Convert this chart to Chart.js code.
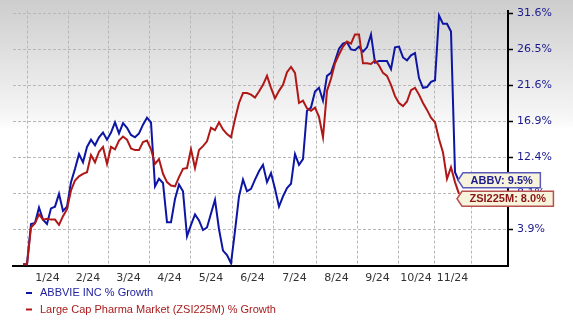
<!DOCTYPE html>
<html>
<head>
<meta charset="utf-8">
<script src="https://cdn.jsdelivr.net/npm/chart.js@4.4.0/dist/chart.umd.min.js"></script>
<style>
  html, body { margin: 0; padding: 0; background: #fff; }
  #wrap { width: 573px; height: 324px; }
</style>
</head>
<body>
<div id="wrap"><canvas id="growthChart" width="573" height="324"></canvas></div>
<script>
// % growth since start, one sample every ~2 trading days
const abbvGrowth = [
  0.0, 0.0, 4.5, 4.6, 6.4, 5.0, 4.5, 6.3, 6.5, 8.0,
  6.0, 6.5, 9.4, 11.0, 12.8, 11.8, 13.7, 14.6, 13.9, 14.9,
  15.5, 14.6, 15.5, 16.8, 15.4, 16.7, 16.1, 15.2, 14.9, 15.4,
  16.5, 17.4, 16.8, 8.9, 9.8, 9.3, 4.7, 4.7, 7.4, 9.1,
  8.3, 3.1, 4.4, 5.6, 4.9, 3.8, 4.1, 5.7, 7.3, 3.9,
  1.5, 1.0, 0.1, 3.7, 7.7, 9.7, 8.3, 8.6, 9.7, 10.7,
  11.5, 9.4, 10.5, 8.6, 6.5, 7.7, 8.7, 9.2, 12.8, 11.5,
  12.2, 18.3, 18.7, 20.8, 21.3, 19.6, 22.9, 23.3, 24.9, 26.6,
  27.3, 27.5, 26.5, 26.4, 26.9, 26.2, 26.8, 28.6, 24.7, 24.9,
  24.9, 24.9, 23.8, 26.8, 26.9, 25.4, 25.0, 25.7, 26.0, 22.6,
  21.3, 21.4, 22.1, 22.3, 31.3, 30.1, 30.1, 29.0, 10.6, 9.5
];
const pharmaGrowth = [
  0.0, 0.0, 4.1, 4.6, 5.6, 5.0, 5.1, 5.0, 5.0, 4.4,
  5.4, 6.2, 8.4, 9.6, 10.1, 10.4, 10.6, 12.7, 11.8, 13.1,
  13.7, 11.6, 13.7, 13.4, 14.5, 15.0, 14.6, 13.5, 13.3, 13.3,
  14.3, 14.5, 13.4, 11.6, 12.2, 10.4, 9.4, 9.0, 8.9, 10.0,
  11.0, 11.1, 13.4, 11.1, 13.3, 13.8, 14.4, 16.1, 15.8, 16.8,
  15.9, 15.3, 14.9, 17.2, 19.3, 20.6, 20.6, 20.4, 20.0, 20.8,
  21.7, 22.9, 21.3, 19.9, 20.9, 21.7, 23.4, 24.1, 23.3, 19.3,
  19.6, 18.6, 18.3, 18.7, 17.5, 14.9, 20.9, 22.5, 24.6, 25.8,
  26.9, 27.6, 27.3, 28.6, 28.6, 24.6, 24.6, 24.5, 25.0, 24.3,
  23.3, 22.9, 21.7, 20.2, 19.3, 18.9, 19.5, 21.0, 21.3, 20.4,
  19.3, 18.4, 17.4, 16.8, 14.7, 13.0, 9.8, 11.2, 9.4, 8.0
];
// month boundaries on the sample axis
const monthStarts = [1, 11.25, 21.25, 31.5, 41.75, 52.25, 62.5, 73.25, 83.5, 93.75, 102.75, 112];
const monthLabels = ['1/24', '2/24', '3/24', '4/24', '5/24', '6/24', '7/24', '8/24', '9/24', '10/24', '11/24'];
const yTicks = [3.9, 8.1, 12.4, 16.9, 21.6, 26.5, 31.6];

const BLUE = '#0d16a3';
const RED = '#b01818';

// x ticks: grid line at each month start, label in the middle of each month
const xTicks = [];
monthStarts.forEach((v, i) => {
  xTicks.push({ value: v, label: '', grid: true });
  if (i < monthLabels.length) {
    xTicks.push({ value: (v + monthStarts[i + 1]) / 2, label: monthLabels[i], grid: false });
  }
});

const toIndex = arr => arr.map((g, i) => ({ x: i, y: 100 + g }));

const bgPlugin = {
  id: 'bg',
  beforeDraw(chart) {
    const c = chart.ctx;
    const g = c.createLinearGradient(0, 0, 0, chart.height);
    g.addColorStop(0, '#cdcdcd');
    g.addColorStop(0.36, '#f6f6f6');
    g.addColorStop(0.4, '#ffffff');
    g.addColorStop(1, '#ffffff');
    c.save();
    c.fillStyle = g;
    c.fillRect(0, 0, chart.width, chart.height);
    c.restore();
  }
};

function tag(c, x, yc, text, border, color, font) {
  c.font = font;
  const w = c.measureText(text).width + 15;
  const h = 15;
  const top = yc - h / 2;
  c.beginPath();
  c.moveTo(x, yc);
  c.lineTo(x + 5, top);
  c.lineTo(x + 5 + w, top);
  c.lineTo(x + 5 + w, top + h);
  c.lineTo(x + 5, top + h);
  c.closePath();
  c.fillStyle = '#f7f3dc';
  c.fill();
  c.lineWidth = 1.5;
  c.strokeStyle = border;
  c.stroke();
  c.fillStyle = color;
  c.textAlign = 'center';
  c.textBaseline = 'middle';
  c.fillText(text, x + 5 + w / 2, yc + 0.5);
}

const labelPlugin = {
  id: 'endLabels',
  afterDraw(chart) {
    const c = chart.ctx;
    const xs = chart.scales.x, ys = chart.scales.y;
    const last = abbvGrowth.length - 1;
    const xEnd = xs.getPixelForValue(last);
    const yA = ys.getPixelForValue(100 + abbvGrowth[last]) - 1;
    let yZ = ys.getPixelForValue(100 + pharmaGrowth[last]);
    if (yZ < yA + 18.5) yZ = yA + 18.5;
    c.save();
    const font = 'bold 11px "Liberation Sans", Arial, sans-serif';
    tag(c, xEnd - 1, yA, 'ABBV: ' + abbvGrowth[last].toFixed(1) + '%', '#5a5ab8', '#1c1c8c', font);
    tag(c, xEnd - 2, yZ, 'ZSI225M: ' + pharmaGrowth[last].toFixed(1) + '%', '#b85050', '#8b1414', font);

    // legend
    const items = [
      { text: 'ABBVIE INC % Growth', color: BLUE, textColor: '#2222a0', y: 293 },
      { text: 'Large Cap Pharma Market (ZSI225M) % Growth', color: RED, textColor: '#a81c1c', y: 309.5 }
    ];
    c.font = '11px "Liberation Sans", Arial, sans-serif';
    c.textAlign = 'left';
    c.textBaseline = 'middle';
    items.forEach(it => {
      c.strokeStyle = it.color;
      c.lineWidth = 2;
      c.beginPath();
      c.moveTo(26, it.y);
      c.lineTo(32, it.y);
      c.stroke();
      c.fillStyle = it.textColor;
      c.fillText(it.text, 40, it.y);
    });
    c.restore();
  }
};

new Chart(document.getElementById('growthChart').getContext('2d'), {
  type: 'line',
  data: {
    datasets: [{
      label: 'ABBVIE INC % Growth',
      data: toIndex(abbvGrowth),
      borderColor: BLUE,
      borderWidth: 2,
      pointRadius: 0,
      tension: 0,
      order: 1
    }, {
      label: 'Large Cap Pharma Market (ZSI225M) % Growth',
      data: toIndex(pharmaGrowth),
      borderColor: RED,
      borderWidth: 2,
      pointRadius: 0,
      tension: 0,
      order: 0
    }]
  },
  options: {
    responsive: false,
    animation: false,
    layout: { padding: { left: 13, top: 7, right: 0, bottom: 40 } },
    plugins: {
      legend: { display: false },
      tooltip: { enabled: false }
    },
    scales: {
      x: {
        type: 'linear',
        min: -2.5,
        max: 121.25,
        afterBuildTicks: s => { s.ticks = xTicks.map(t => ({ value: t.value })); },
        afterFit: s => { s.height = 18; },
        ticks: {
          autoSkip: false,
          maxRotation: 0,
          minRotation: 0,
          padding: 6,
          color: '#333',
          font: { family: '"DejaVu Sans", Verdana, sans-serif', size: 11 },
          callback: (v, i) => xTicks[i].label
        },
        grid: {
          color: ctx => (ctx.index !== undefined && xTicks[ctx.index] && xTicks[ctx.index].grid) ? '#b8b8b8' : 'rgba(0,0,0,0)',
          drawTicks: false
        },
        border: { display: true, color: '#000', width: 2, dash: [3, 2] }
      },
      y: {
        type: 'logarithmic',
        position: 'right',
        bounds: 'data',
        min: 99.8,
        max: 132,
        afterBuildTicks: s => { s.ticks = yTicks.map(v => ({ value: 100 + v })); },
        afterFit: s => { s.width = 65; },
        ticks: {
          padding: 4,
          color: '#1a1a8c',
          font: { family: '"DejaVu Sans", Verdana, sans-serif', size: 11 },
          callback: (v, i) => yTicks[i].toFixed(1) + '%'
        },
        grid: {
          color: '#b8b8b8',
          tickColor: '#000',
          tickLength: 5,
          tickWidth: 1.5
        },
        border: { display: true, color: '#000', width: 2, dash: [3, 2] }
      }
    }
  },
  plugins: [bgPlugin, labelPlugin]
});
</script>
</body>
</html>
